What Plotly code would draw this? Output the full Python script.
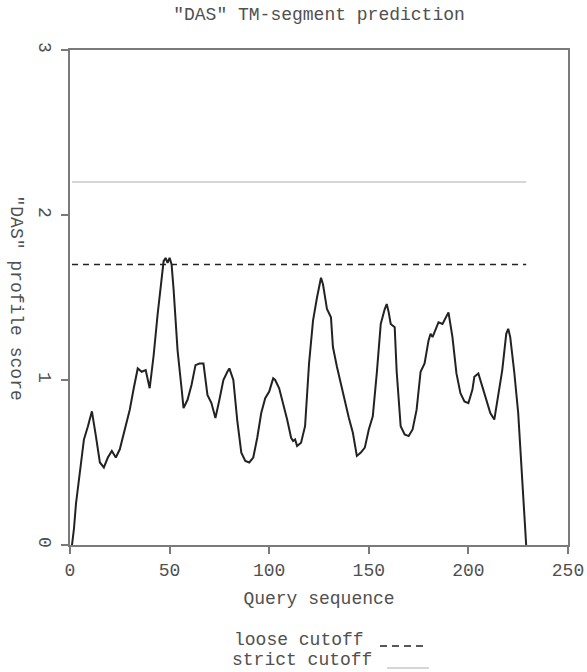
import plotly.graph_objects as go

# Profile curve
seq_pos = [1, 2, 3, 5, 7, 9, 11, 13, 15, 17, 19, 21, 23, 25, 28, 30, 32, 34, 36, 38, 40,
           42, 44, 46, 47, 48, 49, 50, 51, 52, 54, 56, 57, 59, 61, 63, 65, 67, 68, 69, 71,
           73, 75, 77, 79, 80, 82, 84, 86, 88, 90, 92, 94, 96, 98, 100, 102, 103, 105,
           107, 109, 111, 112, 113, 114, 116, 118, 120, 122, 124, 126, 127, 129, 131,
           132, 134, 136, 138, 140, 142, 143, 144, 146, 148, 150, 152, 154, 156, 158,
           159, 160, 161, 163, 164, 166, 168, 170, 172, 174, 176, 178, 180, 181, 182,
           183, 185, 187, 189, 190, 192, 194, 196, 198, 200, 202, 203, 205, 207, 209,
           211, 213, 215, 217, 219, 220, 221, 223, 225, 227, 229]
das_score = [0.00, 0.10, 0.25, 0.45, 0.64, 0.72, 0.81, 0.66, 0.50, 0.47, 0.53, 0.57, 0.53,
             0.58, 0.72, 0.82, 0.95, 1.07, 1.05, 1.06, 0.95, 1.15, 1.40, 1.62, 1.72, 1.74,
             1.71, 1.74, 1.70, 1.55, 1.18, 0.95, 0.83, 0.88, 0.97, 1.09, 1.10, 1.10, 1.00,
             0.91, 0.86, 0.77, 0.88, 1.00, 1.05, 1.07, 1.00, 0.75, 0.56, 0.51, 0.50, 0.53,
             0.65, 0.80, 0.89, 0.93, 1.01, 1.00, 0.95, 0.86, 0.76, 0.65, 0.63, 0.64, 0.60,
             0.62, 0.72, 1.10, 1.36, 1.50, 1.62, 1.58, 1.43, 1.38, 1.20, 1.08, 0.97, 0.87,
             0.77, 0.68, 0.60, 0.54, 0.56, 0.59, 0.70, 0.78, 1.04, 1.34, 1.43, 1.46, 1.41,
             1.34, 1.32, 1.05, 0.72, 0.67, 0.66, 0.70, 0.82, 1.05, 1.10, 1.24, 1.28, 1.26,
             1.29, 1.35, 1.34, 1.39, 1.41, 1.26, 1.04, 0.92, 0.87, 0.86, 0.94, 1.02, 1.04,
             0.96, 0.88, 0.80, 0.76, 0.90, 1.06, 1.28, 1.31, 1.26, 1.05, 0.80, 0.40, 0.00]

# Cutoff levels
loose_cutoff = 1.7
strict_cutoff = 2.2
cutoff_span = [1, 229]

x_ticks = [0, 50, 100, 150, 200, 250]
y_ticks = [0, 1, 2, 3]

FONT = "Liberation Mono, Courier New, monospace"
TXT = "#505050"
AX = "#7a7a7a"
FS = 18

fig = go.Figure()
fig.add_trace(go.Scatter(x=cutoff_span, y=[strict_cutoff] * 2, mode="lines",
                         line=dict(color="#c8c8c8", width=1.5), showlegend=False))
fig.add_trace(go.Scatter(x=cutoff_span, y=[loose_cutoff] * 2, mode="lines",
                         line=dict(color="#222222", width=1.5, dash="6px,5px"), showlegend=False))
fig.add_trace(go.Scatter(x=seq_pos, y=das_score, mode="lines",
                         line=dict(color="#222222", width=2), showlegend=False))

W, H = 587, 672
L, R, T, B = 70, 19, 50, 127
pw, ph = W - L - R, H - T - B

def px(x):
    return (x - L) / pw

def py(y):
    return (H - B - y) / ph

fig.update_layout(
    width=W, height=H,
    margin=dict(l=L, r=R, t=T, b=B, autoexpand=False),
    paper_bgcolor="white", plot_bgcolor="white",
    font=dict(family=FONT, size=FS, color=TXT),
    title=dict(text='"DAS" TM-segment prediction', x=0.5, xanchor="center", xref="paper",
               y=1 - 14 / H, yanchor="middle", yref="container",
               font=dict(family=FONT, size=FS, color=TXT)),
    xaxis=dict(range=[0, 250], tickvals=x_ticks, showgrid=False, zeroline=False,
               showline=True, linecolor=AX, linewidth=2, mirror=True, automargin=False,
               ticks="outside", ticklen=7, tickwidth=1.5, tickcolor=AX,
               title=dict(text="Query sequence", standoff=12,
                          font=dict(family=FONT, size=FS, color=TXT))),
    yaxis=dict(range=[0, 3], tickvals=y_ticks, showgrid=False, zeroline=False,
               showline=True, linecolor=AX, linewidth=2, mirror=True, automargin=False,
               ticks="outside", ticklen=7, tickwidth=1.5, tickcolor=AX,
               tickangle=90),
    annotations=[
        dict(text='"DAS" profile score', textangle=90, xref="paper", yref="paper",
             x=px(16), y=0.5, showarrow=False, xanchor="center", yanchor="middle",
             font=dict(family=FONT, size=FS, color=TXT)),
        dict(text="loose cutoff", xref="paper", yref="paper", x=px(366), y=py(640),
             showarrow=False, xanchor="right", yanchor="middle",
             font=dict(family=FONT, size=FS, color=TXT)),
        dict(text="strict cutoff", xref="paper", yref="paper", x=px(374), y=py(660),
             showarrow=False, xanchor="right", yanchor="middle",
             font=dict(family=FONT, size=FS, color=TXT)),
    ],
    shapes=[
        dict(type="line", xref="paper", yref="paper", x0=px(380), x1=px(423),
             y0=py(646), y1=py(646), line=dict(color="#222222", width=1.5, dash="7px,5px")),
        dict(type="line", xref="paper", yref="paper", x0=px(387), x1=px(429),
             y0=py(668), y1=py(668), line=dict(color="#c8c8c8", width=1.5)),
    ],
)

fig.write_html("out.html", config={"displayModeBar": False},
               post_script="document.body.style.margin='0';document.body.style.overflow='hidden';")
